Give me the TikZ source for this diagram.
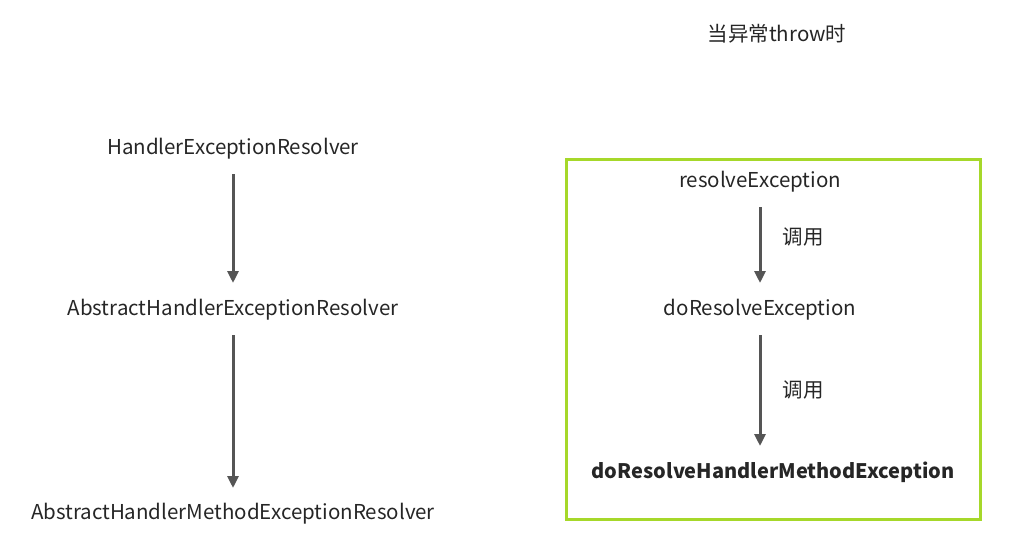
\documentclass[tikz,border=0pt]{standalone}
\usepackage{fontspec}
\setmainfont{Noto Sans CJK SC}
\usetikzlibrary{arrows.meta}
\definecolor{arr}{HTML}{555555}
\definecolor{grn}{HTML}{A6D82A}
\begin{document}
\begin{tikzpicture}[x=1pt,y=-1pt,
  lbl/.style={font=\fontsize{20.5}{24}\selectfont,text=black!85,inner sep=0},
  conn/.style={draw=arr,line width=3pt,-{Triangle[length=12pt,width=11pt]}}]
\useasboundingbox (0,0) rectangle (1016,559);
\node[lbl] (title) at (777,34) {当异常throw时};
\node[lbl] (h1) at (233,149) {HandlerExceptionResolver};
\node[lbl] (h2) at (233,310) {AbstractHandlerExceptionResolver};
\node[lbl] (h3) at (233,514) {AbstractHandlerMethodExceptionResolver};
\coordinate (a1s) at (233,174); \coordinate (a1e) at (233,283);
\coordinate (a2s) at (233,335); \coordinate (a2e) at (233,488);
\draw[conn] (a1s) -- (a1e);
\draw[conn] (a2s) -- (a2e);
\draw[grn,line width=3pt] (566,159) rectangle (980,519);
\node[lbl] (r1) at (760,182) {resolveException};
\node[lbl] (r2) at (760,310) {doResolveException};
\node[lbl,font=\fontsize{20}{24}\selectfont\bfseries] (r3) at (773,472) {doResolveHandlerMethodException};
\coordinate (b1s) at (760,207); \coordinate (b1e) at (760,283);
\coordinate (b2s) at (760,335); \coordinate (b2e) at (760,446);
\draw[conn] (b1s) -- (b1e);
\draw[conn] (b2s) -- (b2e);
\node[lbl] (c1) at (803,237) {调用};
\node[lbl] (c2) at (803,390) {调用};
\end{tikzpicture}
\end{document}
